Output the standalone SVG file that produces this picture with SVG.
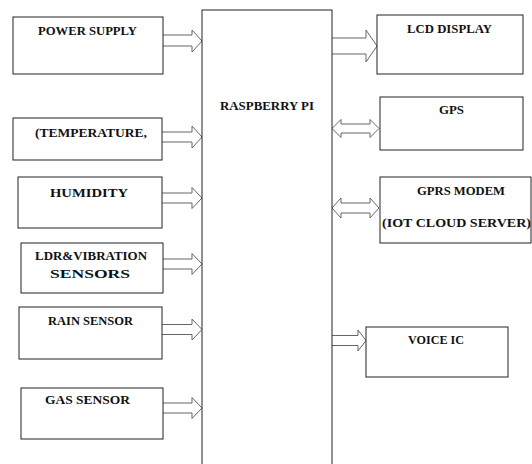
<svg xmlns="http://www.w3.org/2000/svg" width="532" height="464" viewBox="0 0 532 464">
<style>
.box{fill:#fff;stroke:#222;stroke-width:1}
.arr{fill:#fff;stroke:#666;stroke-width:1;stroke-linejoin:miter}
.t{font-family:'Liberation Serif','DejaVu Serif',serif;font-weight:bold;font-size:13px;fill:#111}
</style>
<rect width="532" height="464" fill="#fff"/>
<g id="connectors">
<path class="arr" d="M163 35 H192 V30 L202 41 L192 52 V46 H163"/>
<path class="arr" d="M162 132 H192 V126 L202 137 L192 148 V142 H162"/>
<path class="arr" d="M162 193 H192 V187.5 L202 198 L192 208.5 V203 H162"/>
<path class="arr" d="M163 259 H192 V253.5 L202 264 L192 274.5 V269 H163"/>
<path class="arr" d="M162 324.5 H192 V319 L202 329.5 L192 340 V334.5 H162"/>
<path class="arr" d="M163 403 H192 V397.5 L202 408 L192 418.5 V413 H163"/>
<path class="arr" d="M332 38 H366 V30 L377 46 L366 62 V54 H332"/>
<path class="arr" d="M332 128.5 L341 119.5 V124 H370 V119.5 L379 128.5 L370 137.5 V133 H341 V137.5 Z"/>
<path class="arr" d="M332 208 L341 198 V203 H370 V198 L379 208 L370 218 V213 H341 V218 Z"/>
<path class="arr" d="M330 335.5 H358 V330 L366 340.5 L358 351 V345.5 H330 Z"/>
</g>
<g class="t">
<g id="pi"><rect class="box" x="202" y="10" width="130" height="470"/><text x="220" y="110" textLength="94" lengthAdjust="spacingAndGlyphs">RASPBERRY PI</text></g>
<g id="power"><rect class="box" x="13" y="17" width="150" height="57"/><text x="38" y="35" textLength="99" lengthAdjust="spacingAndGlyphs">POWER SUPPLY</text></g>
<g id="temperature"><rect class="box" x="13" y="118" width="149" height="42"/><text x="35" y="137" textLength="112" lengthAdjust="spacingAndGlyphs">(TEMPERATURE,</text></g>
<g id="humidity"><rect class="box" x="18" y="177" width="144" height="51"/><text x="50" y="197" textLength="78" lengthAdjust="spacingAndGlyphs">HUMIDITY</text></g>
<g id="ldr"><rect class="box" x="21" y="243" width="142" height="50"/><text x="35" y="260" textLength="112" lengthAdjust="spacingAndGlyphs">LDR&amp;VIBRATION</text><text x="50" y="278" textLength="80" lengthAdjust="spacingAndGlyphs">SENSORS</text></g>
<g id="rain"><rect class="box" x="19" y="307" width="143" height="52"/><text x="48" y="325" textLength="85" lengthAdjust="spacingAndGlyphs">RAIN SENSOR</text></g>
<g id="gas"><rect class="box" x="21" y="388" width="142" height="51"/><text x="45" y="404" textLength="85" lengthAdjust="spacingAndGlyphs">GAS SENSOR</text></g>
<g id="lcd"><rect class="box" x="377" y="15" width="146" height="59"/><text x="407" y="33" textLength="85" lengthAdjust="spacingAndGlyphs">LCD DISPLAY</text></g>
<g id="gps"><rect class="box" x="380" y="97" width="143" height="53"/><text x="439" y="114" textLength="25" lengthAdjust="spacingAndGlyphs">GPS</text></g>
<g id="gprs"><rect class="box" x="380" y="177" width="151" height="66"/><text x="417" y="195" textLength="88" lengthAdjust="spacingAndGlyphs">GPRS MODEM</text><text x="382" y="227" textLength="149" lengthAdjust="spacingAndGlyphs">(IOT CLOUD SERVER)</text></g>
<g id="voice"><rect class="box" x="366" y="327" width="142" height="50"/><text x="408" y="344" textLength="56" lengthAdjust="spacingAndGlyphs">VOICE IC</text></g>
</g>
</svg>
